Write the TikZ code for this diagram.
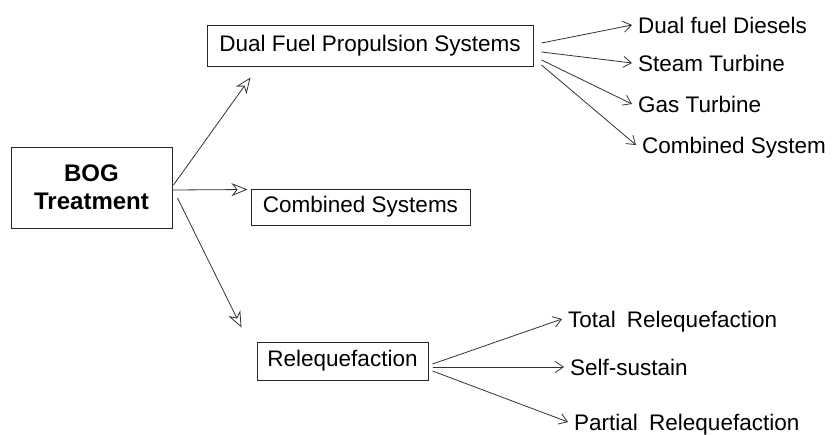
\documentclass[tikz,border=0pt]{standalone}
\usepackage{fontspec}
\setmainfont{Liberation Sans}
\usetikzlibrary{arrows.meta,calc}

\begin{document}
\begin{tikzpicture}[%
	x=1pt, y=-1pt,
	every node/.style={font=\fontsize{22.5}{28}\selectfont},
	box/.style={draw=black!85, line width=1pt, inner sep=0pt, align=center},
	leaf/.style={anchor=west, inner xsep=6pt, inner ysep=0pt, text height=16pt, text depth=0pt},
	branch/.style={draw=black!80, line width=0.8pt, -{Stealth[open, length=16pt, width=13pt, inset=5pt]}},
	twig/.style={draw=black!80, line width=0.8pt, -{Straight Barb[length=8pt, width=11pt]}}]
	\path[fill=white, use as bounding box] (0,0) rectangle (832,434);
	\node[box, minimum width=161pt, minimum height=81pt, font=\fontsize{24}{28}\selectfont\bfseries] (bog) at (91.5,187.5) {BOG\\Treatment};
	\node[box, minimum width=326pt, minimum height=41pt] (dfps) at (370,45.5) {Dual Fuel Propulsion Systems};
	\node[box, minimum width=219pt, minimum height=36pt] (comb) at (360.5,207) {Combined Systems};
	\node[box, minimum width=171pt, minimum height=38pt] (rel) at (342.5,361) {Relequefaction};
	\node[leaf] (ddiesel) at (632,25) {Dual fuel Diesels};
	\node[leaf] (steam) at (632,63) {Steam Turbine};
	\node[leaf] (gas) at (632,104) {Gas Turbine};
	\node[leaf] (csys) at (636,145) {Combined System};
	\node[leaf] (total) at (562,319) {Total\enspace Relequefaction};
	\node[leaf] (self) at (564,367) {Self-sustain};
	\node[leaf] (partial) at (568,422) {Partial\enspace Relequefaction};
	\draw[branch] ($(bog.east)+(1,-2.5)$) -- ($(dfps.south west)+(44,11)$);
	\draw[branch] ($(bog.east)+(0,2.5)$) -- ($(comb.north west)+(-3,1)$);
	\draw[branch] ($(bog.east)+(5,10.5)$) -- ($(rel.north west)+(-15,-14)$);
	\draw[twig] ($(dfps.east)+(8,-2.5)$) -- (ddiesel.west);
	\draw[twig] ($(dfps.east)+(8,6.5)$) -- (steam.west);
	\draw[twig] ($(dfps.east)+(8,14.5)$) -- (gas.west);
	\draw[twig] ($(dfps.east)+(8,19.5)$) -- (csys.west);
	\draw[twig] ($(rel.east)+(4,3)$) -- (total.west);
	\draw[twig] ($(rel.east)+(4,6)$) -- (self.west);
	\draw[twig] ($(rel.east)+(4,10)$) -- (partial.west);
\end{tikzpicture}
\end{document}
